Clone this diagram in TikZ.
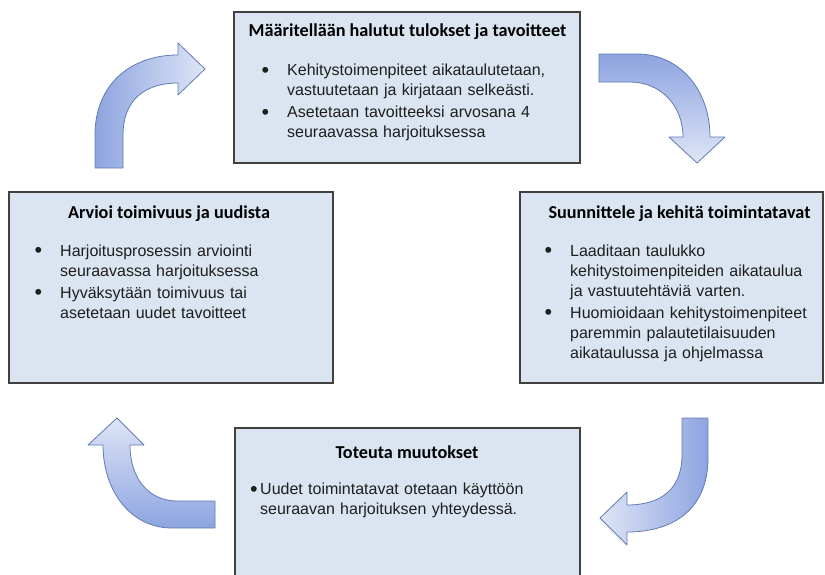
\documentclass[tikz,border=0pt]{standalone}
\usepackage{fontspec}
\setmainfont{Liberation Sans}
\newfontfamily\headfont{Carlito}

\definecolor{boxfill}{RGB}{219,229,241}
\definecolor{boxline}{RGB}{64,64,64}
\definecolor{arrdark}{RGB}{141,164,224}
\definecolor{arrlight}{RGB}{222,229,246}
\definecolor{arrline}{RGB}{98,122,180}
\definecolor{bodytext}{RGB}{30,30,30}

% bullet mark, a little larger than the font's own
\newcommand\bigbullet{\hspace{-1.5pt}\raisebox{-1.6pt}{\scalebox{1.35}{\textbullet}}}
% bullet paragraph with hanging indent: #1 = indent, #2 = text
\newcommand\bitem[2]{\par\noindent\hangindent=#1\hangafter=1\strut\makebox[#1][l]{\bigbullet}#2\par}

\tikzset{
  stagebox/.style={draw=boxline, line width=1.1pt, fill=boxfill, inner sep=0pt},
  stagetitle/.style={font=\headfont\bfseries\fontsize{18.2}{22}\selectfont, anchor=base, inner sep=0pt},
  stagebody/.style={font=\fontsize{16}{20}\selectfont, text=bodytext, anchor=north west,
    inner sep=0pt, text width=300pt,
    execute at begin node=\setlength\parskip{2pt}},
  cyclearrow/.style={draw=arrline, line width=0.8pt, line join=round},
}

\begin{document}
\begin{tikzpicture}[x=1pt,y=-1pt]
\clip (0,0) rectangle (825,574);
\fill[white] (0,0) rectangle (825,574);

% ---- stage boxes ----
\node[stagebox, minimum width=346pt, minimum height=151pt] (goalbox) at (407,87.5) {};
\node[stagebox, minimum width=303pt, minimum height=191pt] (planbox) at (671.5,287.5) {};
\node[stagebox, minimum width=345pt, minimum height=164pt] (dobox) at (407.5,510) {};
\node[stagebox, minimum width=324pt, minimum height=191pt] (evalbox) at (171,287.5) {};

% ---- titles ----
\node[stagetitle] (goaltitle) at (407.5,36.7) {Määritellään halutut tulokset ja tavoitteet};
\node[stagetitle] (plantitle) at (679.5,218.3) {Suunnittele ja kehitä toimintatavat};
\node[stagetitle] (dotitle) at (407,458.3) {Toteuta muutokset};
\node[stagetitle] (evaltitle) at (169,218.3) {Arvioi toimivuus ja uudista};

% ---- bullet texts ----
\node[stagebody] (goaltext) at (263,53.3) {%
  \bitem{24pt}{Kehitystoimenpiteet aikataulutetaan,\newline vastuutetaan ja kirjataan selkeästi.}%
  \bitem{24pt}{Asetetaan tavoitteeksi arvosana 4\newline seuraavassa harjoituksessa}};
\node[stagebody] (plantext) at (546,234) {%
  \bitem{24pt}{Laaditaan taulukko\newline kehitystoimenpiteiden aikataulua\newline ja vastuutehtäviä varten.}%
  \bitem{24pt}{Huomioidaan kehitystoimenpiteet\newline paremmin palautetilaisuuden\newline aikataulussa ja ohjelmassa}};
\node[stagebody] (dotext) at (251.5,472.3) {%
  \bitem{8.5pt}{Uudet toimintatavat otetaan käyttöön\newline seuraavan harjoituksen yhteydessä.}};
\node[stagebody] (evaltext) at (36,234) {%
  \bitem{24pt}{Harjoitusprosessin arviointi\newline seuraavassa harjoituksessa}%
  \bitem{24pt}{Hyväksytään toimivuus tai\newline asetetaan uudet tavoitteet}};

% ---- curved block arrows of the cycle ----
% evaluate -> goals
\path[cyclearrow, left color=arrdark, right color=arrlight]
  (95,168) -- (95,135) .. controls (95,85) and (130,55) .. (178,55)
  -- (178,43) -- (205,69) -- (178,95) -- (178,83)
  .. controls (145,83) and (123,100) .. (123,135) -- (123,168) -- cycle;
% goals -> plan
\path[cyclearrow, top color=arrdark, bottom color=arrlight]
  (599,54) -- (637,54) .. controls (680,54) and (710,90) .. (710,137)
  -- (725,137) -- (697,163) -- (669,137) -- (683,137)
  .. controls (683,105) and (660,82) .. (630,82) -- (599,82) -- cycle;
% plan -> do
\path[cyclearrow, right color=arrdark, left color=arrlight]
  (708,418) -- (708,458) .. controls (708,508) and (675,532) .. (627,532)
  -- (627,545) -- (600,518) -- (627,492) -- (627,505)
  .. controls (660,505) and (682,490) .. (682,455) -- (682,418) -- cycle;
% do -> evaluate
\path[cyclearrow, bottom color=arrdark, top color=arrlight]
  (215,528) -- (172,528) .. controls (130,528) and (103,490) .. (103,445)
  -- (88,445) -- (117,418) -- (144,445) -- (130,445)
  .. controls (130,480) and (150,501) .. (177,501) -- (215,501) -- cycle;
\end{tikzpicture}
\end{document}
